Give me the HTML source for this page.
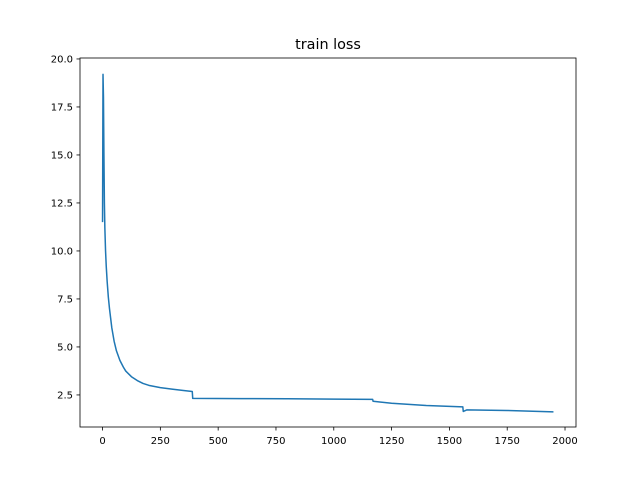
<!DOCTYPE html>
<html><head><meta charset="utf-8"><style>
body{margin:0;background:#fff;}
svg{display:block;font-family:"DejaVu Sans","Liberation Sans",sans-serif;}
</style></head><body>
<svg id="chart" width="640" height="480">
<rect width="640" height="480" fill="#fff"/>
<text x="328" y="49" font-size="14.4" text-anchor="middle">train loss</text>
<g id="plot"></g>
<rect x="80" y="58" width="496" height="369" fill="none" stroke="#000" stroke-width="0.8"/>
</svg>
<script>
const xs = [0,2,4,6,8,10,13,16,20,25,30,35,40,50,60,75,90,100,125,150,175,200,250,300,350,388,390,600,800,1000,1168,1170,1250,1400,1558,1560,1575,1750,1950];
const ys = [11.5,19.2,18,15,12.5,11.2,10.0,9.2,8.4,7.6,7.0,6.5,6.0,5.3,4.8,4.3,3.95,3.75,3.45,3.25,3.1,3.0,2.88,2.8,2.73,2.68,2.32,2.31,2.3,2.28,2.27,2.17,2.07,1.95,1.88,1.64,1.72,1.69,1.62];
const xTicks = [0,250,500,750,1000,1250,1500,1750,2000];
const yTicks = [2.5,5.0,7.5,10.0,12.5,15.0,17.5,20.0];
const L=80,R=576,T=58,B=427;
const xmin=-97.5,xmax=2047.5,ymin=0.83,ymax=20.05;
const sx=v=>L+(v-xmin)/(xmax-xmin)*(R-L);
const sy=v=>B-(v-ymin)/(ymax-ymin)*(B-T);
const NS="http://www.w3.org/2000/svg";
const g=document.getElementById('plot');
function mk(tag,attrs){const e=document.createElementNS(NS,tag);for(const k in attrs)e.setAttribute(k,attrs[k]);g.appendChild(e);return e;}
xTicks.forEach(t=>{
  const x=sx(t);
  const l=mk('line',{x1:x,x2:x,y1:B,y2:B+3.5,stroke:'#000','stroke-width':0.8});
  
  
  const tx=mk('text',{x:x,y:B+17,'font-size':10,'text-anchor':'middle'});
  tx.textContent=t;
  
  
});
yTicks.forEach(t=>{
  const y=sy(t);
  const l=mk('line',{x1:L-3.5,x2:L,y1:y,y2:y,stroke:'#000','stroke-width':0.8});
  
  
  const tx=mk('text',{x:L-7,y:y+3.5,'font-size':10,'text-anchor':'end'});
  tx.textContent=t.toFixed(1);
  
  
});
const p=mk('polyline',{points:xs.map((x,i)=>sx(x)+','+sy(ys[i])).join(' '),fill:'none',stroke:'#1f77b4','stroke-width':1.5,'stroke-linejoin':'round'});


</script>
</body></html>
